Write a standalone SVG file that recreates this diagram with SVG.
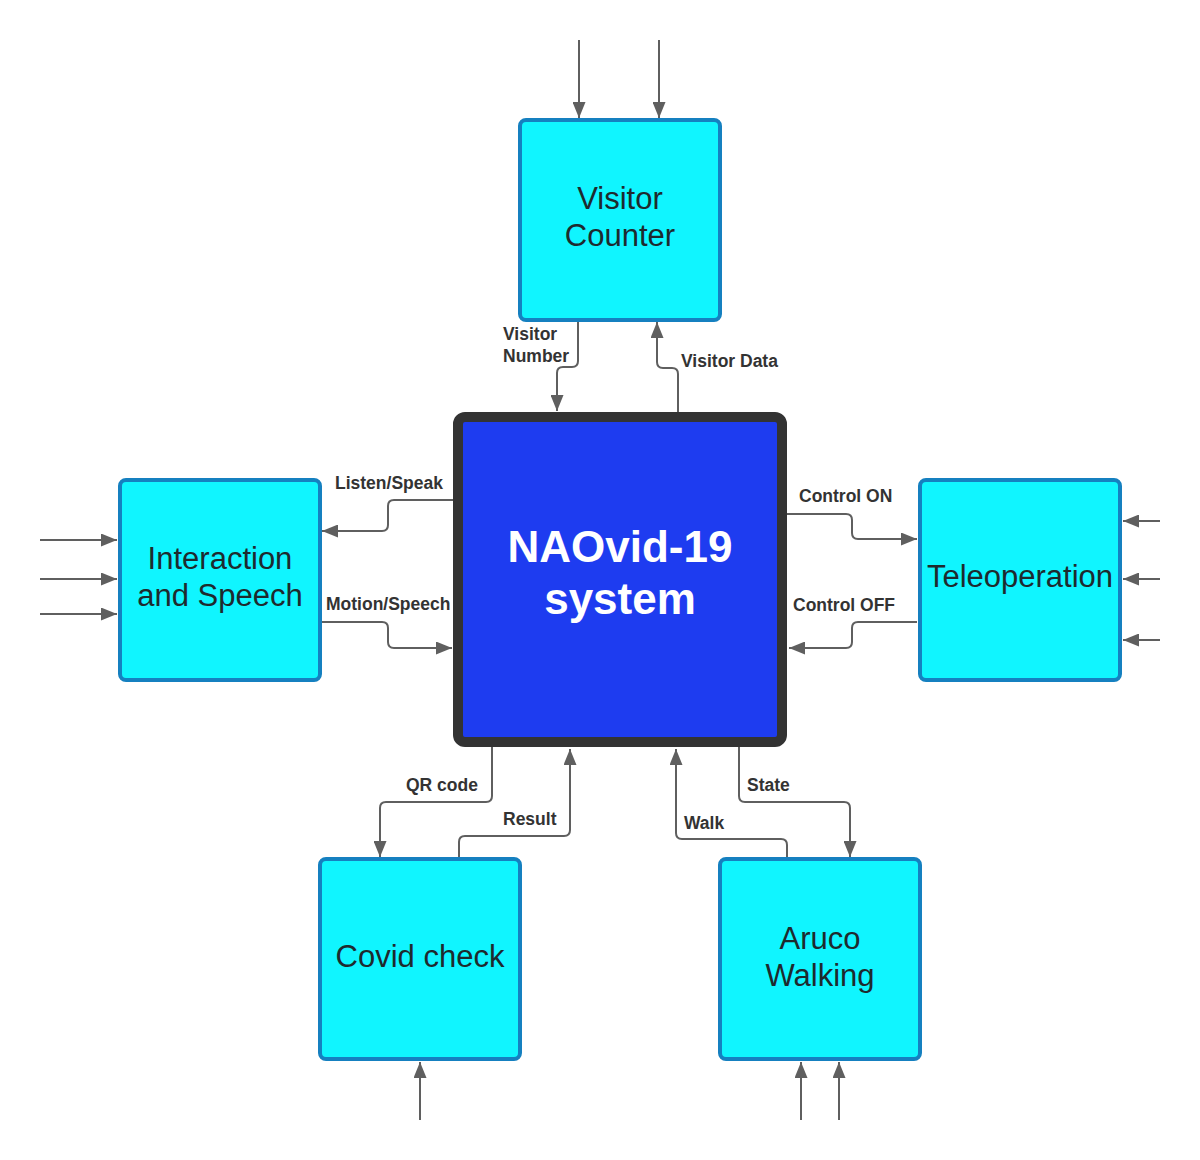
<svg xmlns="http://www.w3.org/2000/svg" width="1200" height="1160" viewBox="0 0 1200 1160">
<style>
.box{fill:#10f5ff;stroke:#1580c0;stroke-width:4}
.main{fill:#1e3cf0;stroke:#333;stroke-width:10}
.nt{font-family:"Liberation Sans",Arial,sans-serif;font-size:31px;fill:#1e2a2e;text-anchor:middle}
.mt{font-family:"Liberation Sans",Arial,sans-serif;font-size:44px;font-weight:bold;fill:#fff;text-anchor:middle}
.lb{font-family:"Liberation Sans",Arial,sans-serif;font-size:17.5px;font-weight:bold;fill:#333}
.c{fill:none;stroke:#5f5f5f;stroke-width:2;marker-end:url(#ah)}
</style>
<defs>
<marker id="ah" viewBox="0 0 16 13" refX="16" refY="6.5" markerWidth="16" markerHeight="13" markerUnits="userSpaceOnUse" orient="auto">
<path d="M0,0 L16,6.5 L0,13 z" fill="#5f5f5f"/>
</marker>
</defs>
<rect width="1200" height="1160" fill="#fff"/>
<g id="connectors">
<path class="c" d="M579,40 V118"/>
<path class="c" d="M659,40 V118"/>
<path class="c" d="M40,540 H117"/>
<path class="c" d="M40,579 H117"/>
<path class="c" d="M40,614 H117"/>
<path class="c" d="M1160,521 H1123"/>
<path class="c" d="M1160,579 H1123"/>
<path class="c" d="M1160,640 H1123"/>
<path class="c" d="M420,1120 V1062"/>
<path class="c" d="M801,1120 V1062"/>
<path class="c" d="M839,1120 V1062"/>
<path class="c" d="M578,321 V361 Q578,367 572,367 H563 Q557,367 557,373 V411"/>
<path class="c" d="M678,412 V374 Q678,368 672,368 H663 Q657,368 657,362 V322"/>
<path class="c" d="M453,500 H394 Q388,500 388,506 V525 Q388,531 382,531 H322"/>
<path class="c" d="M321,622 H382 Q388,622 388,628 V642 Q388,648 394,648 H452"/>
<path class="c" d="M787,514 H846 Q852,514 852,520 V533 Q852,539 858,539 H917"/>
<path class="c" d="M917,622 H858 Q852,622 852,628 V642 Q852,648 846,648 H789"/>
<path class="c" d="M492,747 V796 Q492,802 486,802 H386 Q380,802 380,808 V857"/>
<path class="c" d="M459,858 V842 Q459,836 465,836 H564 Q570,836 570,830 V749"/>
<path class="c" d="M787,858 V845 Q787,839 781,839 H682 Q676,839 676,833 V749"/>
<path class="c" d="M739,747 V796 Q739,802 745,802 H844 Q850,802 850,808 V857"/>
<text class="lb" x="503" y="340">Visitor</text>
<text class="lb" x="503" y="362">Number</text>
<text class="lb" x="681" y="367">Visitor Data</text>
<text class="lb" x="335" y="489">Listen/Speak</text>
<text class="lb" x="326" y="610">Motion/Speech</text>
<text class="lb" x="799" y="502">Control ON</text>
<text class="lb" x="793" y="611">Control OFF</text>
<text class="lb" x="406" y="791">QR code</text>
<text class="lb" x="503" y="825">Result</text>
<text class="lb" x="684" y="829">Walk</text>
<text class="lb" x="747" y="791">State</text>
</g>
<g id="main">
<rect class="main" x="458" y="417" width="324" height="325" rx="7"/>
<text class="mt" x="620" y="562">NAOvid-19</text>
<text class="mt" x="620" y="614">system</text>
</g>
<g id="visitor-counter">
<rect class="box" x="520" y="120" width="200" height="200" rx="6"/>
<text class="nt" x="620" y="209">Visitor</text>
<text class="nt" x="620" y="246">Counter</text>
</g>
<g id="interaction">
<rect class="box" x="120" y="480" width="200" height="200" rx="6"/>
<text class="nt" x="220" y="569">Interaction</text>
<text class="nt" x="220" y="606">and Speech</text>
</g>
<g id="teleoperation">
<rect class="box" x="920" y="480" width="200" height="200" rx="6"/>
<text class="nt" x="1020" y="587">Teleoperation</text>
</g>
<g id="covid">
<rect class="box" x="320" y="859" width="200" height="200" rx="6"/>
<text class="nt" x="420" y="967">Covid check</text>
</g>
<g id="aruco">
<rect class="box" x="720" y="859" width="200" height="200" rx="6"/>
<text class="nt" x="820" y="949">Aruco</text>
<text class="nt" x="820" y="986">Walking</text>
</g>
</svg>
